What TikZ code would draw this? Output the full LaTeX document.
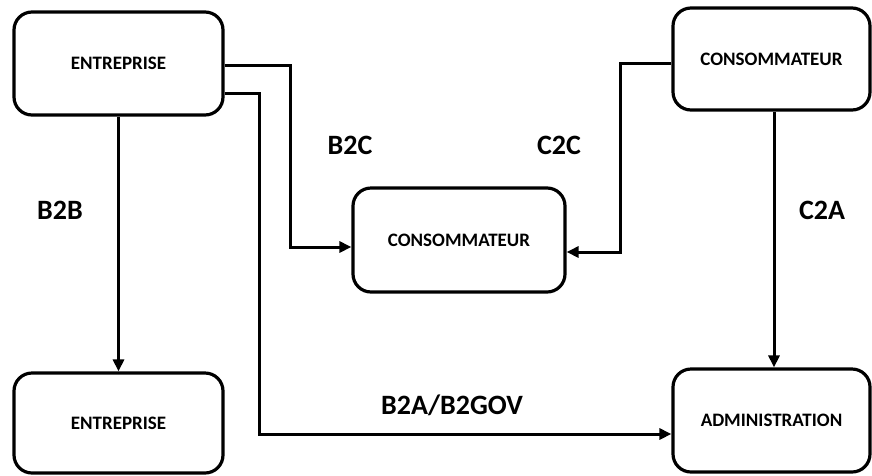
\documentclass[tikz,border=0pt]{standalone}
\usepackage{fontspec}
\setmainfont{Carlito}
\usepackage{tikz}
\usetikzlibrary{arrows.meta,positioning}

\begin{document}
\begin{tikzpicture}[
  x=1pt, y=-1pt,
  box/.style={draw=black, line width=3.2pt, rounded corners=18pt, align=center,
              inner sep=0pt, font=\fontsize{19}{23}\selectfont\bfseries},
  lbl/.style={font=\fontsize{28}{33}\selectfont\bfseries, inner sep=0pt},
  arr/.style={-{Triangle[length=12pt,width=11pt]}, black, line width=3pt}]
\useasboundingbox (0,0) rectangle (872,475);
\node[box, minimum width=209pt, minimum height=103pt] (ent1) at (118.5,63.5) {ENTREPRISE};
\node[box, minimum width=197pt, minimum height=102pt] (cons1) at (771.5,59) {CONSOMMATEUR};
\node[box, minimum width=212pt, minimum height=104pt] (cons2) at (459,240) {CONSOMMATEUR};
\node[box, minimum width=209pt, minimum height=100pt] (ent2) at (118.5,423) {ENTREPRISE};
\node[box, minimum width=197pt, minimum height=103pt] (admin) at (771.5,420.5) {ADMINISTRATION};
% flux labels
\node[lbl] (b2b) at (60,210) {B2B};
\node[lbl] (b2c) at (350,145) {B2C};
\node[lbl] (c2c) at (559,145) {C2C};
\node[lbl] (c2a) at (822,210) {C2A};
\node[lbl] (b2a) at (452,405) {B2A/B2GOV};
\draw[arr] (ent1.south) -- (ent2.north);
\draw[arr] ([yshift=-1.5pt]ent1.east) -- ++(66,0) |- ([yshift=-7pt]cons2.west);
\draw[arr] ([yshift=-29.5pt]ent1.east) -- ++(35,0) |- ([yshift=-13.5pt]admin.west);
\draw[arr] ([yshift=-4pt]cons1.west) -- ++(-51,0) |- ([yshift=-12pt]cons2.east);
\draw[arr] ([xshift=2.5pt]cons1.south) -- ([xshift=2.5pt]admin.north);
\end{tikzpicture}
\end{document}
